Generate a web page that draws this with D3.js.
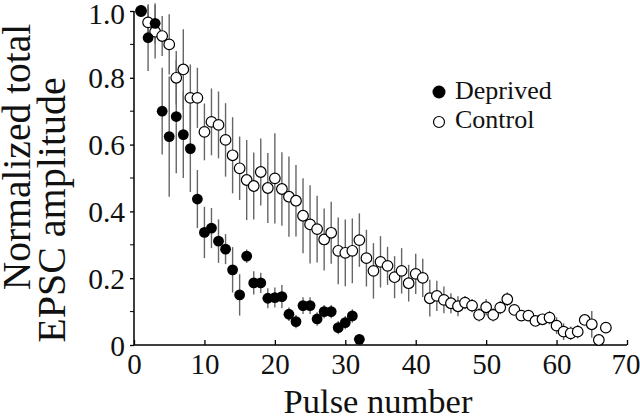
<!DOCTYPE html>
<html><head><meta charset="utf-8">
<script src="https://cdn.jsdelivr.net/npm/d3@7"></script>
<style>body{margin:0;background:#fff}svg{display:block}</style>
</head><body><svg id="c" width="640" height="419"></svg>
<script>
const deprivedX = d3.range(1, 33);
const deprivedY = [1.0,0.92,0.963,0.70,0.624,0.684,0.63,0.588,0.437,0.337,0.35,0.311,0.287,0.225,0.15,0.266,0.186,0.186,0.14,0.142,0.145,0.092,0.07,0.118,0.118,0.078,0.10,0.10,0.052,0.067,0.087,0.017];
const deprivedErr = [0,0.1,0.06,0.13,0.18,0.17,0.13,0.13,0.087,0.077,0.06,0.065,0.045,0.068,0.062,0.02,0.035,0.03,0.03,0.03,0.035,0.02,0.02,0.025,0.025,0.02,0.02,0.02,0.02,0.02,0.02,0];
const controlX = d3.range(1, 68);
const controlY = [1.0,0.966,0.938,0.925,0.90,0.80,0.825,0.74,0.74,0.638,0.668,0.659,0.614,0.568,0.529,0.494,0.476,0.518,0.47,0.499,0.467,0.444,0.432,0.387,0.361,0.347,0.316,0.336,0.282,0.276,0.282,0.314,0.26,0.222,0.249,0.237,0.203,0.222,0.185,0.213,0.201,0.14,0.147,0.135,0.125,0.116,0.127,0.118,0.09,0.113,0.09,0.112,0.137,0.105,0.088,0.088,0.072,0.077,0.082,0.058,0.04,0.035,0.04,0.075,0.062,0.015,0.052];
const controlErr = [0,0.05,0.08,0.06,0.09,0.08,0.12,0.1,0.09,0.085,0.1,0.1,0.11,0.114,0.095,0.12,0.1,0.1,0.105,0.135,0.11,0.12,0.107,0.112,0.117,0.1,0.093,0.093,0.1,0.1,0.097,0.08,0.085,0.083,0.077,0.057,0.063,0.068,0.055,0.06,0.057,0.055,0.045,0.04,0.03,0.03,0.02,0.02,0.02,0.025,0.02,0.02,0.02,0.015,0.015,0.015,0.015,0.015,0.02,0.025,0.025,0.02,0.02,0.015,0.04,0.015,0];
const xTicks = [0,10,20,30,40,50,60,70];
const yTicks = [0,0.2,0.4,0.6,0.8,1.0];
const yMinor = [0.1,0.3,0.5,0.7,0.9];
const legendLabels = ["Deprived","Control"];

const FONT = "'Liberation Serif','Times New Roman',serif";
const svg = d3.select("#c");
const x = d3.scaleLinear().domain([0,70]).range([134,627]);
const y = d3.scaleLinear().domain([0,1]).range([345,11]);

const ctrl = controlX.map((v,i)=>({x:v,y:controlY[i],e:controlErr[i]}));
const dep = deprivedX.map((v,i)=>({x:v,y:deprivedY[i],e:deprivedErr[i]}));

// error bars
svg.append("g").selectAll("line").data(ctrl.concat(dep).filter(d=>d.e>0)).join("line")
  .attr("x1",d=>x(d.x)).attr("x2",d=>x(d.x))
  .attr("y1",d=>y(d.y+d.e)).attr("y2",d=>y(Math.max(0,d.y-d.e)))
  .attr("stroke","#666").attr("stroke-width",1.4);

// axes
const xAxis = d3.axisBottom(x).tickValues(xTicks).tickSize(-5).tickPadding(8).tickFormat(d3.format("d"));
const gx = svg.append("g").attr("transform","translate(0,345)").call(xAxis);
gx.attr("font-family",FONT);
gx.selectAll("text").style("font-size","29px").style("font-family",FONT).attr("fill","#111").attr("dy","0.71em");
gx.selectAll(".tick").filter(d=>d===70).select("text").attr("text-anchor","end").attr("dx","13");
const yAxis = d3.axisLeft(y).tickValues(yTicks).tickSize(4).tickPadding(5).tickFormat(d=>d===0?"0":d3.format(".1f")(d));
const gy = svg.append("g").attr("transform","translate(134,0)").call(yAxis);
gy.attr("font-family",FONT);
gy.selectAll("text").style("font-size","29.5px").style("font-family",FONT).attr("fill","#111").attr("dy","0.34em");
gy.selectAll(".tick").filter(d=>d===1).select("text").attr("dy","0.42em");
gy.append("g").selectAll("line").data(yMinor).join("line").attr("x1",-4).attr("x2",0).attr("y1",d=>y(d)).attr("y2",d=>y(d)).attr("stroke","#000");
svg.selectAll(".domain").attr("stroke","#000").attr("stroke-width",1.5);
svg.selectAll(".tick line").attr("stroke","#000").attr("stroke-width",1.3);
gx.select(".domain").attr("d","M134,0H627");
gy.select(".domain").attr("d","M0,345V11");

// points
svg.append("g").selectAll("circle").data(ctrl).join("circle")
  .attr("cx",d=>x(d.x)).attr("cy",d=>y(d.y)).attr("r",5.3)
  .attr("fill","#fff").attr("stroke","#000").attr("stroke-width",1.2);
svg.append("g").selectAll("circle").data(dep).join("circle")
  .attr("cx",d=>x(d.x)).attr("cy",d=>y(d.y)).attr("r",5.4)
  .attr("fill","#000");

// titles
const T = (sel)=>sel.style("font-family",FONT).attr("fill","#111");
T(svg.append("text").attr("x",378).attr("y",413).attr("text-anchor","middle").style("font-size","34.5px").text("Pulse number"));
T(svg.append("text").attr("transform","translate(30,157) rotate(-90)").attr("text-anchor","middle").style("font-size","39.5px").text("Normalized total"));
T(svg.append("text").attr("transform","translate(65,210) rotate(-90)").attr("text-anchor","middle").style("font-size","40px").text("EPSC amplitude"));

// legend
const lg = svg.append("g");
lg.append("circle").attr("cx",439).attr("cy",92).attr("r",6.5).attr("fill","#000");
lg.append("circle").attr("cx",439).attr("cy",122).attr("r",5.5).attr("fill","#fff").attr("stroke","#000").attr("stroke-width",1.2);
T(lg.selectAll("text").data(legendLabels).join("text").attr("x",455).attr("y",(d,i)=>99+i*29).style("font-size","26px").text(d=>d));
</script></body></html>
